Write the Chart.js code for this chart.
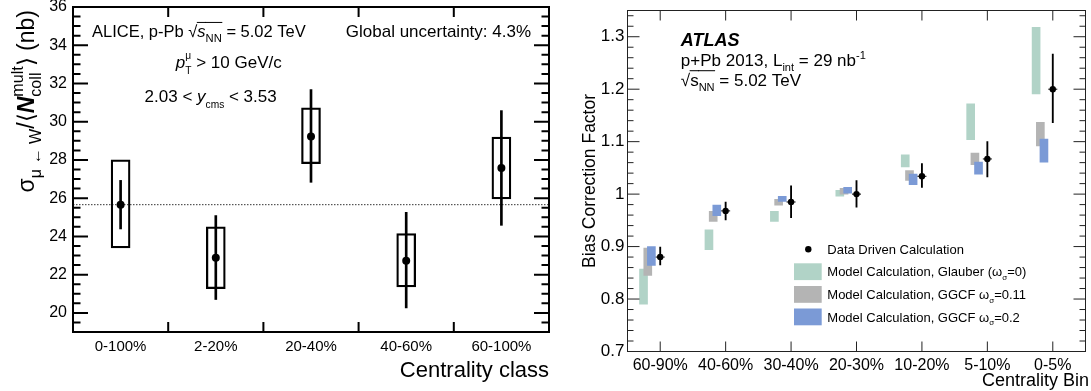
<!DOCTYPE html>
<html>
<head>
<meta charset="utf-8">
<script src="https://cdn.jsdelivr.net/npm/chart.js@4.4.1/dist/chart.umd.min.js"></script>
<style>
  html, body { margin: 0; padding: 0; background: #fff; }
  #wrap { position: relative; width: 1091px; height: 391px; overflow: hidden; }
  canvas { position: absolute; top: 0; }
  #alice { left: 0; }
  #atlas { left: 560px; }
</style>
</head>
<body>
<div id="wrap">
  <canvas id="alice" width="560" height="391"></canvas>
  <canvas id="atlas" width="531" height="391"></canvas>
</div>
<script>
const FONT = '"Liberation Sans", Arial, Helvetica, sans-serif';

// left panel: ALICE W-boson yields per centrality class
const aliceClasses = ["0-100%", "2-20%", "20-40%", "40-60%", "60-100%"];
const aliceValue = [25.66, 22.88, 29.23, 22.73, 27.58];
const aliceStatLow = [24.39, 20.70, 26.83, 20.26, 24.58];
const aliceStatHigh = [26.93, 25.09, 31.68, 25.26, 30.58];
const aliceSystLow = [23.40, 21.27, 27.80, 21.36, 25.96];
const aliceSystHigh = [28.00, 24.50, 30.72, 24.15, 29.20];
const aliceReference = 25.66;
const aliceYTicks = [20, 22, 24, 26, 28, 30, 32, 34, 36];

// right panel: ATLAS bias correction factors
const atlasBins = ["60-90%", "40-60%", "30-40%", "20-30%", "10-20%", "5-10%", "0-5%"];
const dataDriven = [0.880, 0.968, 0.985, 1.000, 1.034, 1.067, 1.200];
const dataDrivenLow = [0.865, 0.951, 0.955, 0.975, 1.013, 1.033, 1.136];
const dataDrivenHigh = [0.899, 0.985, 1.016, 1.026, 1.058, 1.100, 1.267];
const glauberLow = [0.790, 0.894, 0.948, 0.996, 1.052, 1.104, 1.191];
const glauberHigh = [0.857, 0.932, 0.967, 1.007, 1.075, 1.172, 1.318];
const ggcf011Low = [0.845, 0.948, 0.979, 1.000, 1.026, 1.056, 1.092];
const ggcf011High = [0.897, 0.967, 0.990, 1.011, 1.045, 1.078, 1.137];
const ggcf02Low = [0.864, 0.959, 0.986, 1.002, 1.018, 1.038, 1.061];
const ggcf02High = [0.900, 0.979, 0.996, 1.013, 1.038, 1.061, 1.105];
const atlasYTicks = [0.7, 0.8, 0.9, 1.0, 1.1, 1.2, 1.3];

const TEAL = "#b1d3c7", GREY = "#b4b4b4", BLUE = "#7b9ad6";

// text with sub/superscripts: segs = [[text, {s, dy, it, b, stack, ol}]]
function rich(ctx, x, y, size, segs, align = "left") {
  const items = [];
  let cx = 0, prevStart = 0, prevW = 0;
  for (const [t, o = {}] of segs) {
    const fs = size * (o.s || 1);
    const font = `${o.it ? "italic " : ""}${o.b ? "bold " : ""}${fs}px ${FONT}`;
    ctx.font = font;
    const w = ctx.measureText(t).width;
    const start = o.stack ? prevStart : cx;
    items.push({ t, font, x: start, w, dy: (o.dy || 0) * size, ol: o.ol });
    cx = o.stack ? prevStart + Math.max(prevW, w) : start + w;
    prevStart = start; prevW = w;
  }
  const x0 = align === "right" ? x - cx : align === "center" ? x - cx / 2 : x;
  ctx.textAlign = "left";
  ctx.textBaseline = "alphabetic";
  ctx.fillStyle = "#000";
  ctx.strokeStyle = "#000";
  for (const it of items) {
    ctx.font = it.font;
    ctx.fillText(it.t, x0 + it.x, y + it.dy);
    if (it.ol) {
      ctx.lineWidth = size * 0.06;
      ctx.beginPath();
      ctx.moveTo(x0 + it.x - 0.5, y - size * 0.9);
      ctx.lineTo(x0 + it.x + it.w + 0.5, y - size * 0.9);
      ctx.stroke();
    }
  }
}

function frameTicks(o) {
  return {
    id: "frameTicks",
    afterDatasetsDraw(chart) {
      const { ctx, chartArea: a, scales: { x, y } } = chart;
      ctx.save();
      ctx.strokeStyle = o.color;
      ctx.lineWidth = o.lw;
      ctx.strokeRect(a.left, a.top, a.right - a.left, a.bottom - a.top);
      ctx.beginPath();
      const n0 = Math.ceil(y.min / o.yMinor - 1e-6), n1 = Math.floor(y.max / o.yMinor + 1e-6);
      for (let n = n0; n <= n1; n++) {
        const py = y.getPixelForValue(n * o.yMinor);
        const len = n % o.ratio === 0 ? o.yMajorLen : o.yMinorLen;
        ctx.moveTo(a.left, py); ctx.lineTo(a.left + len, py);
        ctx.moveTo(a.right, py); ctx.lineTo(a.right - len, py);
      }
      for (const v of o.xTicks) {
        const px = x.getPixelForValue(v);
        ctx.moveTo(px, a.bottom); ctx.lineTo(px, a.bottom - o.xLen);
        ctx.moveTo(px, a.top); ctx.lineTo(px, a.top + o.xLen);
      }
      ctx.stroke();
      ctx.restore();
    }
  };
}

function textLayer(draw) {
  return { id: "textLayer", afterDraw(chart) { const c = chart.ctx; c.save(); draw(c); c.restore(); } };
}

function baseScales(xOpt, yOpt) {
  return {
    x: {
      type: "linear", offset: false, min: xOpt.min, max: xOpt.max,
      grid: { display: false, drawTicks: false }, border: { display: false },
      afterBuildTicks: s => { s.ticks = xOpt.labels.map((_, i) => ({ value: i })); },
      ticks: { autoSkip: false, maxRotation: 0, minRotation: 0, padding: xOpt.pad, color: "#000",
               font: { family: FONT, size: xOpt.size }, callback: v => xOpt.labels[v] },
      afterFit: s => { s.height = xOpt.height; s.paddingLeft = 0; s.paddingRight = 0; }
    },
    y: {
      type: "linear", min: yOpt.min, max: yOpt.max,
      grid: { display: false, drawTicks: false }, border: { display: false },
      afterBuildTicks: s => { s.ticks = yOpt.ticks.map(v => ({ value: v })); },
      ticks: { padding: yOpt.pad, color: "#000", font: { family: FONT, size: yOpt.size },
               callback: v => String(+v.toFixed(2)) },
      afterFit: s => { s.width = yOpt.width; s.paddingTop = 0; s.paddingBottom = 0; }
    }
  };
}

const common = {
  responsive: false, animation: false, devicePixelRatio: 1,
  plugins: { legend: { display: false }, tooltip: { enabled: false } }
};

new Chart(document.getElementById("alice"), {
  type: "bar",
  data: {
    datasets: [
      { type: "scatter", data: aliceValue.map((v, i) => ({ x: i, y: v })),
        pointRadius: 4, backgroundColor: "#000", borderWidth: 0, order: 0 },
      { data: aliceStatLow.map((v, i) => ({ x: i, y: [v, aliceStatHigh[i]] })),
        grouped: false, barThickness: 2, backgroundColor: "#000", order: 1 },
      { data: aliceSystLow.map((v, i) => ({ x: i, y: [v, aliceSystHigh[i]] })),
        grouped: false, barThickness: 19, backgroundColor: "rgba(0,0,0,0)",
        borderColor: "#000", borderWidth: 1.6, borderSkipped: false, order: 2 },
      { type: "line", data: [{ x: -0.5, y: aliceReference }, { x: 4.5, y: aliceReference }],
        borderColor: "#333", borderWidth: 1, borderDash: [1.5, 1.5], pointRadius: 0, order: 3 }
    ]
  },
  options: {
    ...common,
    layout: { padding: { top: 7, right: 11, left: 0, bottom: 0 } },
    scales: baseScales(
      { min: -0.5, max: 4.5, labels: aliceClasses, pad: 6, size: 15, height: 59 },
      { min: 19, max: 36, ticks: aliceYTicks, pad: 6, size: 16, width: 73 })
  },
  plugins: [
    frameTicks({ color: "#000", lw: 2, yMinor: 0.5, ratio: 4, yMajorLen: 15, yMinorLen: 7.5,
                 xTicks: [0.5, 1.5, 2.5, 3.5], xLen: 10 }),
    textLayer(ctx => {
      rich(ctx, 92, 37.3, 16.5, [["ALICE, p-Pb "], ["√"], ["s", { it: true, ol: true }],
        ["NN", { s: 0.68, dy: 0.3, ol: true }], [" = 5.02 TeV"]]);
      rich(ctx, 531, 37.3, 17, [["Global uncertainty: 4.3%"]], "right");
      rich(ctx, 281.7, 68.3, 17, [["p", { it: true }], ["μ", { s: 0.6, dy: -0.55 }],
        ["T", { s: 0.6, dy: 0.35, stack: true }], [" > 10 GeV/c"]], "right");
      rich(ctx, 276.7, 101.7, 17, [["2.03 < "], ["y", { it: true }], ["cms", { s: 0.6, dy: 0.35 }],
        [" < 3.53"]], "right");
      rich(ctx, 549, 376.7, 22, [["Centrality class"]], "right");
      ctx.translate(34, 10);
      ctx.rotate(-Math.PI / 2);
      rich(ctx, 0, 0, 23, [["σ"], ["μ ← W", { s: 0.7, dy: 0.3 }], ["/⟨"], ["N", { it: true, b: true }],
        ["coll", { s: 0.7, dy: 0.3 }], ["mult", { s: 0.7, dy: -0.5, stack: true }], ["⟩ (nb)"]], "right");
    })
  ]
});

new Chart(document.getElementById("atlas"), {
  type: "bar",
  data: {
    datasets: [
      { type: "scatter", data: dataDriven.map((v, i) => ({ x: i, y: v })),
        pointRadius: 3.2, backgroundColor: "#000", borderWidth: 0, order: 0 },
      { type: "scatter", data: dataDriven.map((v, i) => ({ x: i, y: v })),
        pointStyle: "line", pointRadius: 4.5, borderColor: "#000", borderWidth: 1, order: 1 },
      { data: dataDrivenLow.map((v, i) => ({ x: i, y: [v, dataDrivenHigh[i]] })),
        grouped: false, barThickness: 1.2, backgroundColor: "#000", order: 2 },
      { data: ggcf02Low.map((v, i) => ({ x: i - 0.135, y: [v, ggcf02High[i]] })),
        grouped: false, barThickness: 8, backgroundColor: BLUE, order: 3 },
      { data: ggcf011Low.map((v, i) => ({ x: i - 0.19, y: [v, ggcf011High[i]] })),
        grouped: false, barThickness: 8, backgroundColor: GREY, order: 4 },
      { data: glauberLow.map((v, i) => ({ x: i - 0.255, y: [v, glauberHigh[i]] })),
        grouped: false, barThickness: 8, backgroundColor: TEAL, order: 5 }
    ]
  },
  options: {
    ...common,
    layout: { padding: { top: 10.5, right: 2.5, left: 0, bottom: 0 } },
    scales: baseScales(
      { min: -0.5, max: 6.5, labels: atlasBins, pad: 4, size: 16, height: 39.5 },
      { min: 0.7, max: 1.35, ticks: atlasYTicks, pad: 3, size: 17, width: 67.5 })
  },
  plugins: [
    frameTicks({ color: "#222", lw: 1, yMinor: 0.02, ratio: 5, yMajorLen: 12, yMinorLen: 6,
                 xTicks: [0, 1, 2, 3, 4, 5, 6], xLen: 10 }),
    textLayer(ctx => {
      rich(ctx, 120.8, 45.5, 18, [["ATLAS", { it: true, b: true }]]);
      rich(ctx, 120.8, 65.5, 17, [["p+Pb 2013, L"], ["int", { s: 0.65, dy: 0.3 }], [" = 29 nb"],
        ["-1", { s: 0.65, dy: -0.4 }]]);
      rich(ctx, 120.8, 86, 17, [["√"], ["s", { ol: true }], ["NN", { s: 0.65, dy: 0.3, ol: true }],
        [" = 5.02 TeV"]]);
      rich(ctx, 529, 386, 18, [["Centrality Bin"]], "right");
      // legend
      ctx.fillStyle = "#000";
      ctx.beginPath(); ctx.arc(248.3, 249.3, 3.2, 0, Math.PI * 2); ctx.fill();
      rich(ctx, 267.3, 253.8, 13, [["Data Driven Calculation"]]);
      const rows = [
        [TEAL, 263.3, [["Model Calculation, Glauber ("], ["ω"], ["σ", { s: 0.62, dy: 0.3 }], ["=0)"]]],
        [GREY, 286, [["Model Calculation, GGCF "], ["ω"], ["σ", { s: 0.62, dy: 0.3 }], ["=0.11"]]],
        [BLUE, 308.5, [["Model Calculation, GGCF "], ["ω"], ["σ", { s: 0.62, dy: 0.3 }], ["=0.2"]]]
      ];
      for (const [col, top, segs] of rows) {
        ctx.fillStyle = col;
        ctx.fillRect(234, top, 27.7, 16.8);
        rich(ctx, 267.3, top + 13, 13, segs);
      }
      ctx.translate(35, 181);
      ctx.rotate(-Math.PI / 2);
      rich(ctx, 0, 0, 17.5, [["Bias Correction Factor"]], "center");
    })
  ]
});
</script>
</body>
</html>
